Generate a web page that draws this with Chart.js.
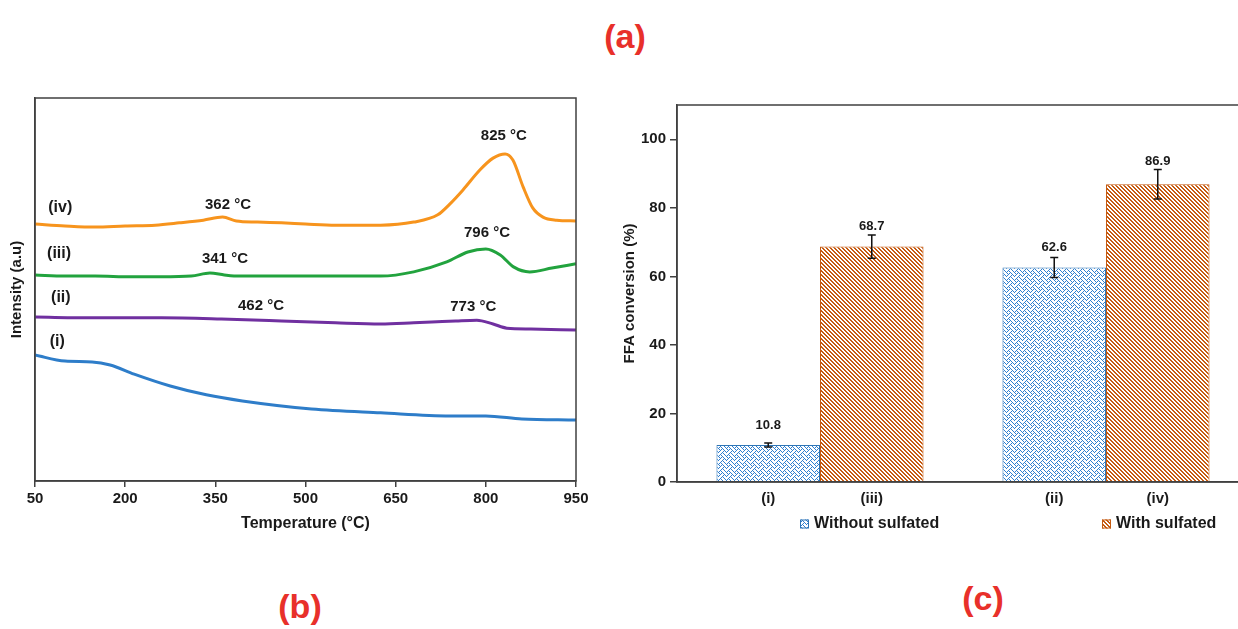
<!DOCTYPE html>
<html>
<head>
<meta charset="utf-8">
<script src="https://cdn.jsdelivr.net/npm/chart.js@4.4.1/dist/chart.umd.min.js"></script>
<style>
  html, body { margin: 0; padding: 0; background: #fff; overflow: hidden; }
  body { width: 1238px; height: 629px; position: relative; }
  canvas { position: absolute; top: 0; }
  #tpd { left: 0; }
  #ffa { left: 590px; }
  .tag { position: absolute; color: #e8302a; font: bold 34px "Liberation Sans Narrow", "Liberation Sans", Arial, sans-serif; transform: translate(-50%, -50%); }
</style>
</head>
<body>
<div class="tag" style="left:625px; top:36px">(a)</div>
<div class="tag" style="left:300px; top:606px">(b)</div>
<div class="tag" style="left:983px; top:598px">(c)</div>
<canvas id="tpd" width="600" height="629"></canvas>
<canvas id="ffa" width="672" height="629"></canvas>
<script>
// (b) TPD curves, intensity in arbitrary units
const tempsIV = [50, 100, 150, 200, 250, 290, 330, 362, 385, 420, 460, 500, 550, 625, 680, 720, 740, 762, 790, 812, 832, 845, 862, 878, 895, 918, 950]
const intensityIV = [67.1, 66.6, 66.3, 66.6, 66.8, 67.4, 68.1, 68.9, 67.9, 67.6, 67.4, 67.1, 66.8, 66.8, 67.6, 69.5, 72.3, 76.0, 81.2, 84.3, 85.4, 83.8, 76.8, 71.3, 68.9, 68.1, 67.9]

const tempsIII = [50, 100, 150, 210, 260, 310, 341, 365, 390, 450, 550, 625, 680, 735, 770, 800, 824, 846, 873, 910, 950]
const intensityIII = [53.8, 53.5, 53.5, 53.3, 53.3, 53.5, 54.3, 53.8, 53.5, 53.5, 53.5, 53.5, 54.6, 57.2, 59.8, 60.6, 59.0, 55.9, 54.6, 55.6, 56.7]

const tempsII = [50, 150, 260, 360, 460, 550, 625, 680, 710, 750, 785, 812, 835, 875, 950]
const intensityII = [42.8, 42.6, 42.6, 42.3, 41.8, 41.3, 41.0, 41.3, 41.5, 41.8, 42.0, 41.0, 39.9, 39.7, 39.4]

const tempsI = [50, 100, 145, 175, 215, 275, 335, 395, 510, 625, 740, 800, 860, 950]
const intensityI = [32.9, 31.3, 31.1, 30.3, 27.9, 24.8, 22.5, 20.9, 18.8, 17.8, 17.0, 17.0, 16.2, 15.9]

const peakTexts = ['825 °C', '796 °C', '773 °C', '362 °C', '341 °C', '462 °C']
const peakTemps = [830, 802, 779, 371, 366, 426]
const peakLevels = [90.1, 64.8, 45.4, 72.1, 58.0, 45.7]

const curveNames = ['(iv)', '(iii)', '(ii)', '(i)']
const curveNameTemps = [92, 90, 93, 87]
const curveNameLevels = [71.5, 59.3, 48.0, 36.3]

// (c) FFA conversion
const withoutValues = [10.8, 62.6]
const withoutErrors = [0.6, 2.9]
const withoutNames = ['(i)', '(ii)']
const withValues = [68.7, 86.9]
const withErrors = [3.4, 4.3]
const withNames = ['(iii)', '(iv)']
const yTicksFFA = [0, 20, 40, 60, 80, 100]

const narrow = '"Liberation Sans Narrow", "Liberation Sans", Arial, sans-serif'
const wide = '"Liberation Sans", Arial, sans-serif'
const axisColor = '#404040'
Chart.defaults.color = '#1a1a1a'

function points(xs, ys) {
    return xs.map((x, i) => ({ x, y: ys[i] }))
}

const frame = {
    id: 'frame',
    afterDraw(chart) {
        const { ctx, chartArea: a } = chart
        ctx.save()
        ctx.strokeStyle = axisColor
        ctx.lineWidth = 1.5
        ctx.strokeRect(a.left, a.top, a.right - a.left, a.bottom - a.top)
        ctx.restore()
    }
}

const tpdLabels = {
    id: 'tpdLabels',
    afterDatasetsDraw(chart) {
        const { ctx, scales: { x, y } } = chart
        ctx.save()
        ctx.fillStyle = '#1a1a1a'
        ctx.textAlign = 'center'
        ctx.textBaseline = 'middle'
        ctx.font = 'bold 15px ' + narrow
        peakTexts.forEach((t, i) => {
            ctx.fillText(t, x.getPixelForValue(peakTemps[i]), y.getPixelForValue(peakLevels[i]))
        })
        ctx.font = 'bold 16px ' + narrow
        curveNames.forEach((t, i) => {
            ctx.fillText(t, x.getPixelForValue(curveNameTemps[i]), y.getPixelForValue(curveNameLevels[i]))
        })
        ctx.restore()
    }
}

new Chart(document.getElementById('tpd'), {
    type: 'line',
    data: {
        datasets: [
            { label: '(iv)', data: points(tempsIV, intensityIV), borderColor: '#f7941d' },
            { label: '(iii)', data: points(tempsIII, intensityIII), borderColor: '#22a33e' },
            { label: '(ii)', data: points(tempsII, intensityII), borderColor: '#7030a0' },
            { label: '(i)', data: points(tempsI, intensityI), borderColor: '#2e7dc9' }
        ]
    },
    options: {
        responsive: false,
        animation: false,
        layout: { padding: { top: 98, right: 24, bottom: 88, left: 0 } },
        elements: {
            point: { radius: 0 },
            line: { borderWidth: 3, tension: 0.4, cubicInterpolationMode: 'monotone' }
        },
        plugins: { legend: { display: false }, tooltip: { enabled: false } },
        scales: {
            x: {
                type: 'linear',
                min: 50,
                max: 950,
                afterFit: axis => { axis.height = 60 },
                ticks: { stepSize: 150, padding: 3, font: { size: 15, weight: 'bold', family: narrow }, color: '#1a1a1a' },
                grid: { display: true, drawOnChartArea: false, drawTicks: true, tickLength: 6, color: axisColor, lineWidth: 1.5 },
                border: { display: true, color: axisColor, width: 1.5 },
                title: { display: true, text: 'Temperature (°C)', padding: { top: 0, bottom: 8 }, font: { size: 16, weight: 'bold', family: narrow }, color: '#1a1a1a' }
            },
            y: {
                min: 0,
                max: 100,
                afterFit: axis => { axis.width = 35 },
                ticks: { display: false },
                grid: { display: false },
                border: { display: true, color: axisColor, width: 1.5 },
                title: { display: true, text: 'Intensity (a.u)', padding: { top: 8, bottom: 0 }, font: { size: 15, weight: 'bold', family: wide }, color: '#1a1a1a' }
            }
        }
    },
    plugins: [frame, tpdLabels]
})

// 8x8 bitmap tiles, like the office fill patterns
function bitmapPattern(rows, color) {
    const c = document.createElement('canvas')
    c.width = 8
    c.height = 8
    const g = c.getContext('2d')
    g.fillStyle = '#fff'
    g.fillRect(0, 0, 8, 8)
    g.fillStyle = color
    rows.forEach((bits, y) => {
        for (let x = 0; x < 8; x++) {
            if (bits & (0x80 >> x)) g.fillRect(x, y, 1, 1)
        }
    })
    return g.createPattern(c, 'repeat')
}

const weave = [0x88, 0x54, 0x22, 0x45, 0x88, 0x14, 0x22, 0x51]
const downDiagonal = [0xcc, 0x66, 0x33, 0x99, 0xcc, 0x66, 0x33, 0x99]
const blueFill = bitmapPattern(weave, '#2f7fd0')
const orangeFill = bitmapPattern(downDiagonal, '#c55a11')

const barExtras = {
    id: 'barExtras',
    afterDatasetsDraw(chart) {
        const { ctx, chartArea, scales: { y } } = chart
        ctx.save()
        chart.data.datasets.forEach((ds, d) => {
            chart.getDatasetMeta(d).data.forEach((bar, i) => {
                const v = ds.data[i]
                const e = ds.errors[i]
                const top = y.getPixelForValue(v + e)
                const bottom = y.getPixelForValue(v - e)
                ctx.strokeStyle = '#111'
                ctx.lineWidth = 1.5
                ctx.beginPath()
                ctx.moveTo(bar.x, top); ctx.lineTo(bar.x, bottom)
                ctx.moveTo(bar.x - 4, top); ctx.lineTo(bar.x + 4, top)
                ctx.moveTo(bar.x - 4, bottom); ctx.lineTo(bar.x + 4, bottom)
                ctx.stroke()

                ctx.fillStyle = '#1a1a1a'
                ctx.textAlign = 'center'
                ctx.textBaseline = 'middle'
                ctx.font = 'bold 13px ' + narrow
                ctx.fillText(v.toFixed(1), bar.x, Math.min(bar.y - 20, top - 8))
                ctx.font = 'bold 15px ' + narrow
                ctx.fillText(ds.names[i], bar.x, chartArea.bottom + 17)
            })
        })

        // legend row under the axis
        const legendX = [chartArea.left + 123, chartArea.left + 425]
        const legendY = chartArea.bottom + 42
        ctx.font = 'bold 16px ' + narrow
        ctx.textAlign = 'left'
        chart.data.datasets.forEach((ds, d) => {
            ctx.fillStyle = ds.backgroundColor
            ctx.fillRect(legendX[d], legendY - 4.5, 9, 9)
            ctx.strokeStyle = ds.borderColor
            ctx.lineWidth = 1
            ctx.strokeRect(legendX[d] + 0.5, legendY - 4, 8, 8)
            ctx.fillStyle = '#1a1a1a'
            ctx.fillText(ds.label, legendX[d] + 14, legendY)
        })
        ctx.restore()
    }
}

new Chart(document.getElementById('ffa'), {
    type: 'bar',
    data: {
        labels: ['', ''],
        datasets: [
            { label: 'Without sulfated', data: withoutValues, errors: withoutErrors, names: withoutNames,
              backgroundColor: blueFill, borderColor: '#2e75b6', borderWidth: 1 },
            { label: 'With sulfated', data: withValues, errors: withErrors, names: withNames,
              backgroundColor: orangeFill, borderColor: '#c55a11', borderWidth: 1 }
        ]
    },
    options: {
        responsive: false,
        animation: false,
        layout: { padding: { top: 105, right: 13, bottom: 123, left: 0 } },
        datasets: { bar: { categoryPercentage: 0.724, barPercentage: 1 } },
        plugins: { legend: { display: false }, tooltip: { enabled: false } },
        scales: {
            x: {
                afterFit: axis => { axis.height = 24 },
                ticks: { display: false },
                grid: { display: false },
                border: { display: true, color: axisColor, width: 1.5 }
            },
            y: {
                min: 0,
                max: 110,
                afterFit: axis => { axis.width = 87 },
                afterBuildTicks: axis => { axis.ticks = yTicksFFA.map(value => ({ value })) },
                ticks: { padding: 4, font: { size: 15, weight: 'bold', family: narrow }, color: '#1a1a1a' },
                grid: { display: true, drawOnChartArea: false, drawTicks: true, tickLength: 7, color: axisColor, lineWidth: 1.5 },
                border: { display: true, color: axisColor, width: 1.5 },
                title: { display: true, text: 'FFA conversion (%)', padding: { top: 31, bottom: 0 }, font: { size: 15, weight: 'bold', family: wide }, color: '#1a1a1a' }
            }
        }
    },
    plugins: [frame, barExtras]
})
</script>
</body>
</html>
